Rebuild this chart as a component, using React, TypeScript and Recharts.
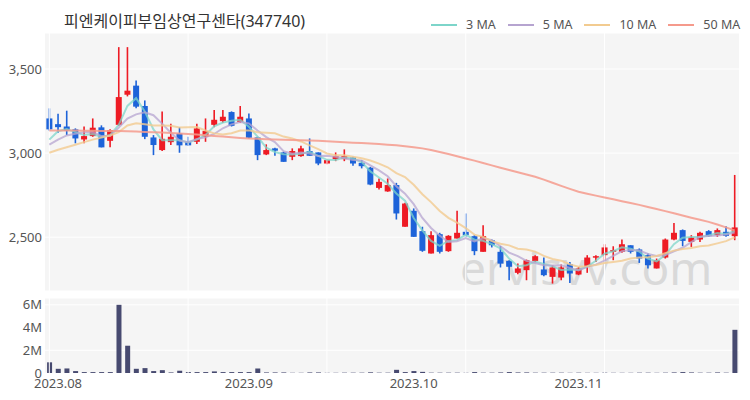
import React from 'react';
import { ComposedChart, Bar, Line, XAxis, YAxis, CartesianGrid, ReferenceLine } from 'recharts';

// trading days shown (2023-07-31 .. 2023-11-27)
const dates = [
  '2023-07-31',
  '2023-08-01', '2023-08-02', '2023-08-03', '2023-08-04', '2023-08-07', '2023-08-08', '2023-08-09', '2023-08-10',
  '2023-08-11', '2023-08-14', '2023-08-16', '2023-08-17', '2023-08-18', '2023-08-21', '2023-08-22', '2023-08-23',
  '2023-08-24', '2023-08-25', '2023-08-28', '2023-08-29', '2023-08-30', '2023-08-31',
  '2023-09-01', '2023-09-04', '2023-09-05', '2023-09-06', '2023-09-07', '2023-09-08', '2023-09-11', '2023-09-12',
  '2023-09-13', '2023-09-14', '2023-09-15', '2023-09-18', '2023-09-19', '2023-09-20', '2023-09-21', '2023-09-22',
  '2023-09-25', '2023-09-26', '2023-09-27',
  '2023-10-04', '2023-10-05', '2023-10-06', '2023-10-10', '2023-10-11', '2023-10-12', '2023-10-13', '2023-10-16',
  '2023-10-17', '2023-10-18', '2023-10-19', '2023-10-20', '2023-10-23', '2023-10-24', '2023-10-25', '2023-10-26',
  '2023-10-27', '2023-10-30', '2023-10-31',
  '2023-11-01', '2023-11-02', '2023-11-03', '2023-11-06', '2023-11-07', '2023-11-08', '2023-11-09', '2023-11-10',
  '2023-11-13', '2023-11-14', '2023-11-15', '2023-11-16', '2023-11-17', '2023-11-20', '2023-11-21', '2023-11-22',
  '2023-11-23', '2023-11-24', '2023-11-27',
];

const opens = [
  3206, 3172, 3158, 3141, 3081, 3101, 3153, 3073, 3168, 3347,
  3401, 3280, 3093, 3018, 3065, 3117, 3067, 3067, 3097, 3168,
  3190, 3244, 3184, 3206, 3093, 2992, 3028, 3004, 2978, 2982,
  3012, 3004, 2938, 2964, 2964, 2974, 2942, 2913, 2793, 2772,
  2810, 2562, 2657, 2536, 2403, 2518, 2417, 2492, 2532, 2506,
  2413, 2482, 2413, 2359, 2288, 2304, 2359, 2308, 2264, 2260,
  2339, 2278, 2323, 2379, 2393, 2413, 2413, 2452, 2427, 2393,
  2314, 2379, 2486, 2542, 2472, 2486, 2536, 2512, 2532, 2506,
];
const highs = [
  3266, 3234, 3252, 3147, 3158, 3206, 3165, 3141, 3630, 3630,
  3431, 3313, 3107, 3248, 3174, 3154, 3097, 3174, 3206, 3256,
  3256, 3248, 3280, 3236, 3097, 3052, 3032, 3008, 3028, 3043,
  3087, 3004, 2962, 3004, 3022, 2978, 2958, 2918, 2849, 2849,
  2823, 2704, 2671, 2562, 2536, 2526, 2512, 2657, 2641, 2512,
  2571, 2486, 2447, 2363, 2343, 2367, 2393, 2379, 2333, 2337,
  2353, 2323, 2393, 2393, 2458, 2446, 2486, 2452, 2433, 2403,
  2373, 2492, 2585, 2546, 2512, 2532, 2542, 2552, 2565, 2870,
];
const lows = [
  3133, 3121, 3107, 3058, 3058, 3097, 3034, 3034, 3162, 3337,
  3266, 3083, 2988, 3012, 3048, 3002, 3042, 3054, 3067, 3154,
  3180, 3158, 3180, 3087, 2958, 2988, 2984, 2948, 2958, 2978,
  2984, 2928, 2934, 2952, 2952, 2924, 2909, 2809, 2784, 2770,
  2605, 2562, 2502, 2413, 2403, 2403, 2413, 2492, 2502, 2393,
  2413, 2439, 2320, 2244, 2280, 2244, 2353, 2268, 2224, 2244,
  2228, 2274, 2288, 2353, 2363, 2363, 2407, 2403, 2347, 2314,
  2314, 2373, 2482, 2446, 2442, 2472, 2502, 2502, 2502, 2482,
];
const closes = [
  3141, 3154, 3133, 3087, 3101, 3151, 3034, 3137, 3333, 3371,
  3276, 3097, 3048, 3085, 3097, 3046, 3046, 3147, 3131, 3198,
  3216, 3162, 3216, 3091, 2988, 3018, 3014, 2948, 3012, 3028,
  2984, 2938, 2958, 2982, 2982, 2938, 2922, 2813, 2829, 2810,
  2641, 2700, 2502, 2419, 2512, 2413, 2508, 2526, 2512, 2417,
  2506, 2452, 2343, 2324, 2314, 2363, 2387, 2274, 2320, 2320,
  2284, 2314, 2379, 2387, 2439, 2423, 2458, 2413, 2373, 2333,
  2363, 2486, 2526, 2478, 2498, 2526, 2506, 2542, 2508, 2558,
];
// volume, millions of shares
const volumesM = [
  0.94, 0.37, 0.4, 0.17, 0.08, 0.08, 0.08, 0.08, 6.0, 2.4,
  0.37, 0.43, 0.17, 0.25, 0.05, 0.2, 0.08, 0.08, 0.08, 0.14,
  0.08, 0.08, 0.08, 0.08, 0.4, 0.05, 0.05, 0.05, 0.02, 0.02,
  0.05, 0.05, 0.02, 0.02, 0.03, 0.03, 0.03, 0.06, 0.03, 0.03,
  0.28, 0.08, 0.17, 0.1, 0.03, 0.03, 0.03, 0.03, 0.02, 0.08,
  0.03, 0.03, 0.05, 0.08, 0.05, 0.05, 0.03, 0.03, 0.03, 0.03,
  0.02, 0.03, 0.02, 0.02, 0.03, 0.02, 0.02, 0.02, 0.03, 0.03,
  0.02, 0.03, 0.05, 0.08, 0.05, 0.03, 0.03, 0.05, 0.03, 3.8,
];
// 50 MA as drawn (window reaches before the shown range)
const ma50 = [
  3135, 3135, 3134, 3134, 3133, 3133, 3132, 3132, 3131, 3130,
  3128, 3126, 3124, 3122, 3120, 3117, 3114, 3110, 3106, 3102,
  3098, 3094, 3090, 3087, 3085, 3083, 3081, 3079, 3078, 3077,
  3075, 3073, 3071, 3068, 3065, 3062, 3060, 3057, 3054, 3050,
  3046, 3041, 3035, 3028, 3018, 3006, 2994, 2981, 2968, 2955,
  2941, 2927, 2913, 2899, 2886, 2873, 2859, 2842, 2824, 2805,
  2787, 2770, 2758, 2747, 2736, 2725, 2714, 2703, 2692, 2680,
  2668, 2655, 2642, 2629, 2616, 2604, 2591, 2575, 2558, 2540,
];
// first values of the short MAs
const ma3Lead = [3080, 3130];
const ma5Lead = [3050, 3080, 3105, 3115];
const ma10Lead = [3002, 3020, 3035, 3050, 3065, 3080, 3092, 3105, 3125];

const priceTicks = [2500, 3000, 3500];
const volumeTicks = [0, 2, 4, 6];
const monthTicks = ['2023-08-01', '2023-09-01', '2023-10-04', '2023-11-01'];
const gridDates = [0, 16, 32, 48, 64].map((i) => dates[i]);

const RED = '#ee1b24';
const BLUE = '#1d63d9';
const FONT = '"Noto Sans", "Noto Sans CJK KR", sans-serif';

const movingAvg = (n: number, lead: number[]) =>
  closes.map((_, i) => {
    if (i < n - 1) return lead[i];
    const win = closes.slice(i - n + 1, i + 1);
    return win.reduce((a, b) => a + b, 0) / n;
  });

const ma3 = movingAvg(3, ma3Lead);
const ma5 = movingAvg(5, ma5Lead);
const ma10 = movingAvg(10, ma10Lead);

const rows = dates.map((date, i) => ({
  date,
  open: opens[i],
  high: highs[i],
  low: lows[i],
  close: closes[i],
  range: [lows[i], highs[i]],
  volume: volumesM[i],
  ma3: ma3[i],
  ma5: ma5[i],
  ma10: ma10[i],
  ma50: ma50[i],
}));

const Candle = (props: any) => {
  const { x, y, width, height } = props;
  const d = props.payload ?? props;
  const top = Math.min(y, y + height);
  const h = Math.abs(height);
  const span = d.high - d.low || 1;
  const toY = (v: number) => top + ((d.high - v) / span) * h;
  const color = d.close >= d.open ? RED : BLUE;
  const cx = x + width / 2;
  const bTop = toY(Math.max(d.open, d.close));
  const bBot = toY(Math.min(d.open, d.close));
  const bw = 6;
  return (
    <g>
      <line x1={cx} x2={cx} y1={top} y2={top + h} stroke={color} strokeWidth={1.6} />
      <rect x={cx - bw / 2} y={bTop} width={bw} height={Math.max(bBot - bTop, 1.5)} fill={color} />
    </g>
  );
};

const legendItems = [
  { label: '3 MA', color: '#7dd5ca' },
  { label: '5 MA', color: '#b6a4d0' },
  { label: '10 MA', color: '#f2cb90' },
  { label: '50 MA', color: '#f59a8c' },
];

const tickStyle = { fill: '#555', fontSize: 13, fontFamily: FONT };

export default function App() {
  return (
    <div style={{ position: 'absolute', left: 0, top: 0, width: 750, height: 400, background: '#fff', fontFamily: FONT, overflow: 'hidden' }}>
      <div style={{ position: 'absolute', left: 64, top: 10, fontSize: 16, lineHeight: '22px', color: '#333', whiteSpace: 'nowrap' }}>
        피엔케이피부임상연구센타(347740)
      </div>
      <div style={{ position: 'absolute', left: 431, top: 16, display: 'flex', alignItems: 'center', fontSize: 12.5, color: '#555', whiteSpace: 'nowrap' }}>
        {legendItems.map((it) => (
          <div key={it.label} style={{ display: 'flex', alignItems: 'center', marginRight: 12 }}>
            <div style={{ width: 26, height: 2, background: it.color, marginRight: 9 }} />
            <span>{it.label}</span>
          </div>
        ))}
      </div>

      <div style={{ position: 'absolute', left: 45, top: 33, width: 694, height: 258, background: '#f5f5f5' }} />
      <div style={{ position: 'absolute', left: 45, top: 298, width: 694, height: 75, background: '#f5f5f5' }} />
      <div style={{ position: 'absolute', left: 460, top: 244, fontSize: 46, lineHeight: '46px', color: '#d9d9d9', whiteSpace: 'nowrap' }}>
        ervisvv.com
      </div>

      <div style={{ position: 'absolute', left: 0, top: 0 }}>
        <ComposedChart width={750} height={300} data={rows} margin={{ top: 33, right: 11, bottom: 9, left: 0 }}>
          <CartesianGrid stroke="#fff" strokeWidth={1} vertical={false} />
          {gridDates.map((g) => (
            <ReferenceLine key={g} x={g} stroke="#fff" strokeWidth={1} />
          ))}
          <XAxis dataKey="date" type="category" hide />
          <YAxis
            domain={[2180, 3714]}
            ticks={priceTicks}
            allowDataOverflow
            width={45}
            axisLine={false}
            tickLine={false}
            tickSize={0}
            tickMargin={3}
            tick={tickStyle}
            tickFormatter={(v: number) => v.toLocaleString('en-US')}
          />
          <Bar dataKey="range" shape={Candle} isAnimationActive={false} />
          <Line dataKey="ma3" stroke="#7dd5ca" strokeWidth={2} strokeOpacity={0.75} dot={false} isAnimationActive={false} />
          <Line dataKey="ma5" stroke="#b6a4d0" strokeWidth={2} strokeOpacity={0.75} dot={false} isAnimationActive={false} />
          <Line dataKey="ma10" stroke="#f2cb90" strokeWidth={2} strokeOpacity={0.8} dot={false} isAnimationActive={false} />
          <Line dataKey="ma50" stroke="#f59a8c" strokeWidth={2} strokeOpacity={0.85} dot={false} isAnimationActive={false} />
        </ComposedChart>
      </div>

      <div style={{ position: 'absolute', left: 0, top: 290 }}>
        <ComposedChart width={750} height={110} data={rows} margin={{ top: 8, right: 11, bottom: 0, left: 0 }} barCategoryGap="24%">
          <CartesianGrid stroke="#fff" strokeWidth={1} vertical={false} />
          {gridDates.map((g) => (
            <ReferenceLine key={g} x={g} stroke="#fff" strokeWidth={1} />
          ))}
          <XAxis
            dataKey="date"
            type="category"
            ticks={monthTicks}
            interval={0}
            height={27}
            axisLine={false}
            tickLine={false}
            tickSize={0}
            tickMargin={6}
            tick={tickStyle}
            tickFormatter={(d: string) => d.slice(0, 7).replace('-', '.')}
          />
          <YAxis
            domain={[0, 6.6]}
            ticks={volumeTicks}
            allowDataOverflow
            width={45}
            axisLine={false}
            tickLine={false}
            tickSize={0}
            tickMargin={3}
            tick={tickStyle}
            tickFormatter={(v: number) => (v === 0 ? '0' : `${v}M`)}
          />
          <Bar dataKey="volume" fill="#474a70" isAnimationActive={false} />
        </ComposedChart>
      </div>
    </div>
  );
}
